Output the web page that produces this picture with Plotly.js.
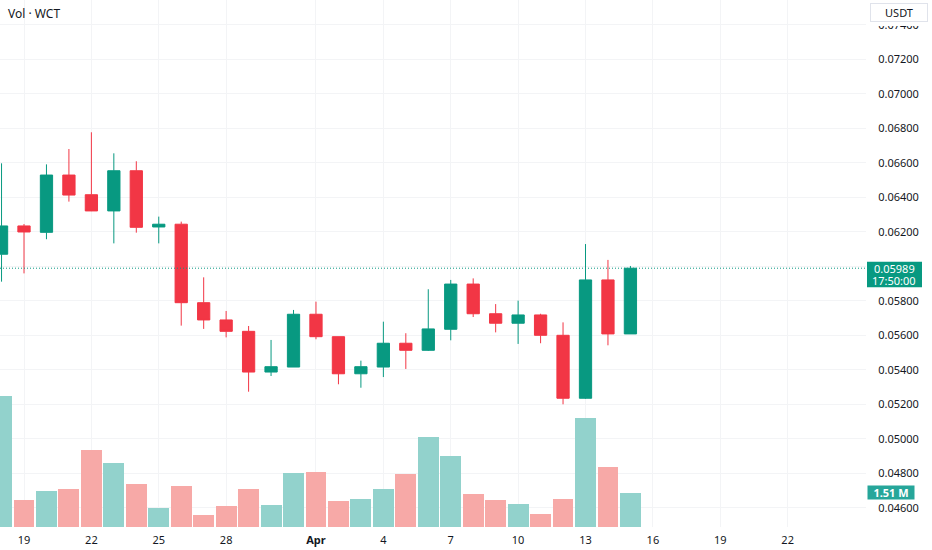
<!DOCTYPE html>
<html>
<head>
<meta charset="utf-8">
<script src="https://cdn.plot.ly/plotly-3.0.1.min.js"></script>
<style>
  html, body { margin: 0; padding: 0; background: #ffffff; }
  #chart { width: 932px; height: 550px; }
</style>
</head>
<body>
<div id="chart"></div>
<script>
// ---- Data (daily candles, WCT/USDT) ----
const dates = [
  '2026-03-18','2026-03-19','2026-03-20','2026-03-21','2026-03-22','2026-03-23','2026-03-24',
  '2026-03-25','2026-03-26','2026-03-27','2026-03-28','2026-03-29','2026-03-30','2026-03-31',
  '2026-04-01','2026-04-02','2026-04-03','2026-04-04','2026-04-05','2026-04-06','2026-04-07',
  '2026-04-08','2026-04-09','2026-04-10','2026-04-11','2026-04-12','2026-04-13','2026-04-14',
  '2026-04-15'
];
const openP  = [0.06070, 0.06234, 0.06197, 0.06529, 0.06415, 0.06321, 0.06554, 0.06228, 0.06244, 0.05789,
                0.05689, 0.05623, 0.05387, 0.05416, 0.05722, 0.05592, 0.05377, 0.05416, 0.05554, 0.05513,
                0.05635, 0.05897, 0.05725, 0.05670, 0.05718, 0.05600, 0.05235, 0.05921, 0.05608];
const highP  = [0.06597, 0.06245, 0.06591, 0.06680, 0.06777, 0.06655, 0.06609, 0.06288, 0.06259, 0.05936,
                0.05741, 0.05654, 0.05573, 0.05747, 0.05795, 0.05592, 0.05453, 0.05679, 0.05612, 0.05867,
                0.05921, 0.05930, 0.05781, 0.05801, 0.05725, 0.05675, 0.06129, 0.06037, 0.06002];
const lowP   = [0.05911, 0.05959, 0.06157, 0.06375, 0.06320, 0.06133, 0.06195, 0.06133, 0.05656, 0.05637,
                0.05588, 0.05273, 0.05364, 0.05416, 0.05577, 0.05316, 0.05296, 0.05358, 0.05405, 0.05509,
                0.05571, 0.05706, 0.05617, 0.05550, 0.05554, 0.05200, 0.05231, 0.05542, 0.05608];
const closeP = [0.06234, 0.06199, 0.06529, 0.06413, 0.06321, 0.06554, 0.06226, 0.06244, 0.05789, 0.05689,
                0.05623, 0.05387, 0.05418, 0.05722, 0.05592, 0.05377, 0.05418, 0.05554, 0.05513, 0.05637,
                0.05897, 0.05725, 0.05670, 0.05718, 0.05600, 0.05235, 0.05921, 0.05608, 0.05989];
// volume in millions
const volumeM = [5.83, 1.20, 1.60, 1.67, 3.41, 2.86, 1.89, 0.84, 1.82, 0.55,
                 0.93, 1.70, 0.98, 2.38, 2.43, 1.15, 1.26, 1.70, 2.35, 4.00,
                 3.15, 1.48, 1.19, 1.03, 0.58, 1.26, 4.85, 2.66, 1.51];

// x-axis tick labels
const tickDates  = ['2026-03-19','2026-03-22','2026-03-25','2026-03-28','2026-04-01','2026-04-04',
                    '2026-04-07','2026-04-10','2026-04-13','2026-04-16','2026-04-19','2026-04-22'];
const tickLabels = ['19','22','25','28','<b>Apr</b>','4','7','10','13','16','19','22'];

const symbolLabel = 'Vol · WCT';
const currencyLabel = 'USDT';
const lastPriceText = '0.05989';
const countdownText = '17:50:00';
const lastVolumeText = '1.51 M';

// ---- Styles ----
const UP = '#089981', DOWN = '#f23645';
const UP_VOL = '#92d2cc', DOWN_VOL = '#f7a9a7';
const TEXT = '#131722';
const GRID = '#f3f4f6';
const FONT = '"Noto Sans", "Open Sans", Roboto, sans-serif';

const volColors = closeP.map((c, i) => c >= openP[i] ? UP_VOL : DOWN_VOL);
const lastClose = closeP[closeP.length - 1];
const lastUp = lastClose >= openP[openP.length - 1];
const lastVol = volumeM[volumeM.length - 1] * 1e6;

const volumeTrace = {
  type: 'bar',
  x: dates,
  y: volumeM.map(v => v * 1e6),
  marker: { color: volColors, line: { width: 0 } },
  width: 0.93 * 86400000,
  xaxis: 'x', yaxis: 'y',
  hoverinfo: 'skip'
};

const candleTrace = {
  type: 'candlestick',
  x: dates,
  open: openP, high: highP, low: lowP, close: closeP,
  increasing: { line: { color: UP, width: 1 }, fillcolor: UP },
  decreasing: { line: { color: DOWN, width: 1 }, fillcolor: DOWN },
  whiskerwidth: 0,
  xaxis: 'x', yaxis: 'y2',
  hoverinfo: 'skip'
};

const layout = {
  width: 932, height: 550,
  margin: { l: 0, r: 66, t: 0, b: 23 },
  paper_bgcolor: '#ffffff',
  plot_bgcolor: '#ffffff',
  showlegend: false,
  boxgap: 0.22,
  bargap: 0,
  font: { family: FONT, color: TEXT, size: 11 },
  xaxis: {
    type: 'date',
    range: ['2026-03-17 22:21', '2026-04-25 11:44'],
    tickmode: 'array',
    tickvals: tickDates,
    ticktext: tickLabels,
    showgrid: true, gridcolor: GRID, gridwidth: 1,
    zeroline: false, showline: false,
    ticks: 'outside', ticklen: 3, tickcolor: 'rgba(0,0,0,0)',
    tickfont: { family: FONT, size: 11, color: TEXT },
    rangeslider: { visible: false },
    fixedrange: true
  },
  yaxis: {
    range: [0, 23.4e6],
    visible: false,
    showgrid: false, zeroline: false,
    fixedrange: true
  },
  yaxis2: {
    overlaying: 'y',
    side: 'right',
    range: [0.044887, 0.075438],
    tick0: 0, dtick: 0.002,
    tickformat: '.5f',
    showgrid: true, gridcolor: GRID, gridwidth: 1,
    zeroline: false, showline: false,
    ticks: 'outside', ticklen: 9, tickcolor: 'rgba(0,0,0,0)',
    tickfont: { family: FONT, size: 11, color: TEXT },
    fixedrange: true
  },
  shapes: [
    { // last price dotted line
      type: 'line', xref: 'paper', x0: 0, x1: 1,
      yref: 'y2', y0: lastClose, y1: lastClose,
      line: { color: UP, width: 1, dash: '1px,2px' },
      layer: 'above'
    },
    { // last price label background
      type: 'rect', xref: 'paper', xsizemode: 'pixel', xanchor: 1, x0: 1, x1: 56,
      yref: 'y2', ysizemode: 'pixel', yanchor: lastClose, y0: -19, y1: 6.5,
      fillcolor: lastUp ? UP : DOWN, line: { width: 0 },
      layer: 'above'
    },
    { // white fade behind the currency box
      type: 'rect', xref: 'paper', xsizemode: 'pixel', xanchor: 1, x0: 1, x1: 66,
      yref: 'paper', ysizemode: 'pixel', yanchor: 1, y0: 0, y1: -26,
      fillcolor: '#ffffff', line: { width: 0 },
      layer: 'above'
    }
  ],
  annotations: [
    {
      text: symbolLabel, xref: 'paper', yref: 'paper', x: 0, y: 1,
      xanchor: 'left', yanchor: 'middle', xshift: 6, yshift: -13,
      showarrow: false, font: { family: FONT, size: 12, color: TEXT }
    },
    {
      text: currencyLabel, xref: 'paper', yref: 'paper', x: 1, y: 1,
      xanchor: 'left', yanchor: 'top', xshift: 4, yshift: -3,
      width: 52, height: 13, borderpad: 2,
      bgcolor: '#ffffff', bordercolor: '#e0e3eb', borderwidth: 1,
      showarrow: false, font: { family: FONT, size: 11, color: TEXT }
    },
    {
      text: lastPriceText, xref: 'paper', yref: 'y2', x: 1, y: lastClose,
      xanchor: 'center', yanchor: 'middle', xshift: 28, yshift: 0,
      showarrow: false, font: { family: FONT, size: 11, color: '#ffffff' }
    },
    {
      text: countdownText, xref: 'paper', yref: 'y2', x: 1, y: lastClose,
      xanchor: 'center', yanchor: 'middle', xshift: 28, yshift: -12,
      showarrow: false, font: { family: FONT, size: 11, color: '#ffffff' }
    },
    {
      text: '<b>' + lastVolumeText + '</b>', xref: 'paper', yref: 'y', x: 1, y: lastVol,
      xanchor: 'left', yanchor: 'middle', xshift: 1, yshift: 0,
      width: 44, height: 11, borderpad: 1,
      bgcolor: '#26a69a', showarrow: false,
      font: { family: FONT, size: 11, color: '#ffffff' }
    }
  ]
};

Plotly.newPlot('chart', [volumeTrace, candleTrace], layout, { displayModeBar: false, staticPlot: true });
</script>
</body>
</html>
